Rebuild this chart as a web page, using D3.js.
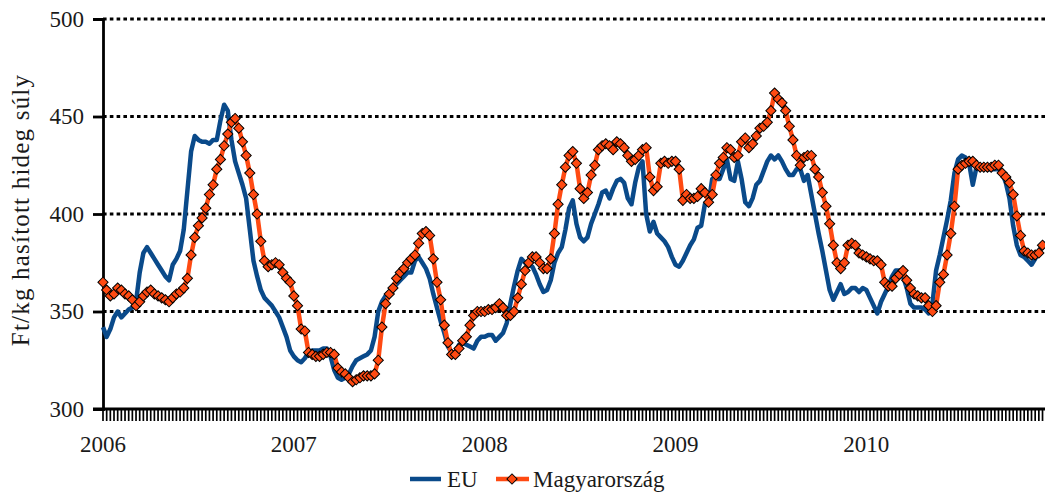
<!DOCTYPE html>
<html>
<head>
<meta charset="utf-8">
<script src="https://cdn.jsdelivr.net/npm/d3@7"></script>
<style>
  html, body { margin: 0; padding: 0; background: #fff; }
  svg { display: block; }
  text { font-family: "Liberation Serif", "DejaVu Serif", serif; fill: #1a1a1a; }
</style>
</head>
<body>
<script>
// year labels on the category axis (one every 52 weeks)
const years = [2006, 2007, 2008, 2009, 2010];

// weekly EU average, Ft/kg
const eu = [
  342, 337, 341, 347, 350, 347, 349, 351, 352, 355, 370, 380, 383, 380, 377, 374, 371, 368, 366, 374,
  377, 381, 392, 412, 432, 440, 438, 437, 437, 436, 438, 438, 448, 456, 453, 438, 427, 421, 415, 408,
  392, 376, 368, 361, 357, 355, 353, 350, 347, 342, 337, 330,
  327, 325, 324, 326, 329, 330, 330, 330, 331, 331, 327, 320, 316, 315, 316, 318, 322, 325, 326, 327,
  328, 330, 337, 350, 355, 358, 360, 362, 364, 366, 368, 370, 370, 376, 378, 375, 372, 367, 359, 352,
  345, 339, 332, 329, 329, 333, 334, 333, 332, 331, 335, 337,
  337, 338, 338, 335, 337, 339, 344, 354, 363, 371, 377, 375, 374, 373, 369, 364, 360, 361, 366, 375,
  380, 383, 392, 403, 407, 395, 388, 386, 388, 395, 400, 405, 411, 412, 408, 413, 417, 418, 416, 408,
  405, 416, 424, 427, 400, 391, 396, 390, 388, 386, 383, 378,
  374, 373, 376, 380, 384, 387, 393, 394, 405, 405, 418, 418, 418, 423, 428, 418, 417, 427, 418, 406,
  404, 408, 415, 417, 422, 427, 430, 428, 430, 427, 423, 420, 420, 423, 423, 417, 420, 410, 400, 390,
  381, 371, 361, 356, 360, 364, 359, 360, 362, 362, 360, 362,
  361, 357, 353, 349, 355, 359, 363, 368, 371, 371, 368, 362, 354, 352, 352, 352, 351, 349, 354, 371,
  379, 388, 397, 407, 421, 428, 430, 429, 426, 415, 424, 425, 424, 423, 423, 423, 423, 421, 416, 408,
  394, 384, 379, 378, 376, 374, 377, 381, 384
];

// weekly Hungarian price, Ft/kg
const hu = [
  365, 361, 358, 359, 362, 361, 359, 358, 356, 353, 355, 358, 360, 361, 359, 358, 357, 356, 355, 357,
  359, 360, 362, 367, 379, 388, 394, 398, 403, 410, 415, 423, 428, 435, 441, 447, 449, 444, 437, 430,
  421, 410, 400, 386, 376, 373, 374, 375, 374, 370, 367, 365,
  358, 353, 341, 340, 329, 328, 327, 327, 328, 329, 329, 328, 321, 319, 318, 316, 314, 315, 316, 317,
  317, 317, 318, 325, 342, 354, 359, 362, 367, 370, 372, 375, 377, 379, 385, 390, 391, 389, 377, 365,
  356, 343, 334, 328, 328, 331, 335, 337, 343, 348, 350, 350,
  350, 351, 351, 352, 354, 352, 348, 348, 350, 357, 364, 371, 375, 378, 378, 375, 372, 372, 377, 390,
  405, 415, 424, 430, 432, 426, 413, 408, 411, 420, 425, 433, 435, 436, 435, 433, 437, 436, 434, 430,
  427, 428, 430, 433, 434, 419, 412, 414, 426, 427, 426, 427,
  427, 423, 407, 410, 408, 408, 409, 413, 411, 406, 410, 420, 426, 429, 434, 433, 429, 430, 437, 439,
  434, 436, 440, 444, 445, 447, 453, 462, 459, 457, 453, 445, 438, 430, 425, 429, 430, 430, 423, 419,
  411, 404, 395, 384, 375, 372, 375, 384, 385, 384, 380, 379,
  378, 377, 376, 376, 374, 365, 363, 363, 367, 369, 371, 366, 362, 359, 358, 357, 357, 353, 350, 353,
  365, 369, 379, 390, 404, 423, 425, 426, 427, 427, 425, 424, 424, 424, 424, 425, 425, 421, 419, 416,
  410, 399, 389, 381, 380, 379, 379, 380, 384
];

const yTicks = [300, 350, 400, 450, 500];
const gridTicks = [350, 400, 450, 500];

const width = 1045;
const height = 493;
const left = 103;
const weekStep = 3.67;

const blue = "#0a4a8a";
const orange = "#ff4a12";

const x = d3.scaleLinear()
  .domain([0, eu.length])
  .range([left, left + eu.length * weekStep]);

const y = d3.scaleLinear()
  .domain([300, 500])
  .range([409, 19]);

const svg = d3.select("body").append("svg")
  .attr("width", width)
  .attr("height", height)
  .attr("viewBox", `0 0 ${width} ${height}`);

// dotted grid
svg.append("g")
  .selectAll("line")
  .data(gridTicks)
  .join("line")
  .attr("x1", left)
  .attr("x2", width)
  .attr("y1", d => y(d))
  .attr("y2", d => y(d))
  .attr("stroke", "#000")
  .attr("stroke-width", 2.8)
  .attr("stroke-dasharray", "3.6 3.2");

// y axis
const yAxis = svg.append("g")
  .attr("transform", `translate(${left},0)`)
  .call(d3.axisLeft(y).tickValues(yTicks).tickSize(10).tickPadding(9));
yAxis.select(".domain").attr("stroke", "#000").attr("stroke-width", 2.8);
yAxis.selectAll(".tick line").attr("stroke", "#000").attr("stroke-width", 2.8);
yAxis.selectAll(".tick text")
  .attr("font-size", 23)
  .attr("font-family", "Liberation Serif, serif")
  .attr("fill", "#1a1a1a");

// x axis: one tick per week
const weekIdx = d3.range(eu.length + 1);
svg.append("g")
  .selectAll("line")
  .data(weekIdx)
  .join("line")
  .attr("x1", d => x(d))
  .attr("x2", d => x(d))
  .attr("y1", 409)
  .attr("y2", 421)
  .attr("stroke", "#000")
  .attr("stroke-width", 1.7);

svg.append("line")
  .attr("x1", left - 10)
  .attr("x2", width)
  .attr("y1", 409)
  .attr("y2", 409)
  .attr("stroke", "#000")
  .attr("stroke-width", 2.8);

svg.append("g")
  .selectAll("text")
  .data(years)
  .join("text")
  .attr("x", (d, i) => x(i * 52))
  .attr("y", 452)
  .attr("text-anchor", "middle")
  .attr("font-size", 23)
  .text(d => d);

// axis title
svg.append("text")
  .attr("transform", "translate(29,210) rotate(-90)")
  .attr("text-anchor", "middle")
  .attr("font-size", 25)
  .attr("letter-spacing", 1.2)
  .text("Ft/kg hasított hideg súly");

const line = d3.line()
  .x((d, i) => x(i))
  .y(d => y(d));

svg.append("path")
  .datum(eu)
  .attr("fill", "none")
  .attr("stroke", blue)
  .attr("stroke-width", 4.5)
  .attr("stroke-linejoin", "round")
  .attr("d", line);

svg.append("path")
  .datum(hu)
  .attr("fill", "none")
  .attr("stroke", orange)
  .attr("stroke-width", 4.5)
  .attr("stroke-linejoin", "round")
  .attr("d", line);

const diamond = d3.symbol(d3.symbolSquare, 52);

svg.append("g")
  .selectAll("path")
  .data(hu)
  .join("path")
  .attr("d", diamond)
  .attr("transform", (d, i) => `translate(${x(i)},${y(d)}) rotate(45)`)
  .attr("fill", orange)
  .attr("stroke", "#000")
  .attr("stroke-width", 1);

// legend
const legend = svg.append("g").attr("transform", "translate(0,479)");
legend.append("line")
  .attr("x1", 410).attr("x2", 441)
  .attr("stroke", blue).attr("stroke-width", 4.5);
legend.append("text")
  .attr("x", 447).attr("y", 8)
  .attr("font-size", 23)
  .text("EU");
legend.append("line")
  .attr("x1", 496).attr("x2", 529)
  .attr("stroke", orange).attr("stroke-width", 4.5);
legend.append("path")
  .attr("d", diamond)
  .attr("transform", "translate(512,0) rotate(45)")
  .attr("fill", orange)
  .attr("stroke", "#000")
  .attr("stroke-width", 1);
legend.append("text")
  .attr("x", 533).attr("y", 8)
  .attr("font-size", 23)
  .text("Magyarország");
</script>
</body>
</html>
